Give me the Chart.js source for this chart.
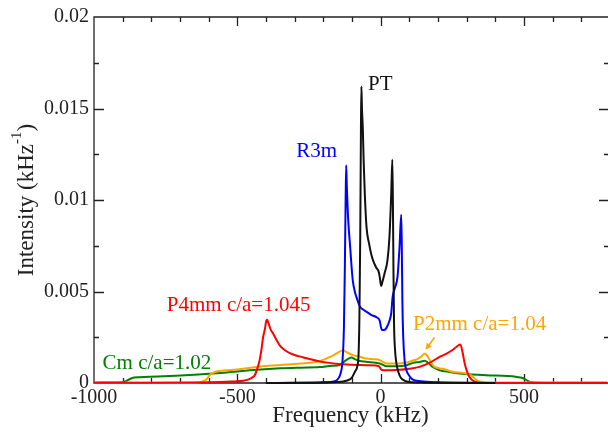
<!DOCTYPE html>
<html>
<head>
<meta charset="utf-8">
<script src="https://cdn.jsdelivr.net/npm/chart.js@4.4.0/dist/chart.umd.min.js"></script>
<style>
  html, body { margin: 0; padding: 0; background: #fff; }
</style>
</head>
<body>
<canvas id="chart" width="608" height="436"></canvas>
<script>
// frequencies in kHz, intensities in kHz^-1
const ptFreq = [-400,-250,-150,-120,-100,-90,-80,-77,-74,-71,-68.5,-67,-65,-62,-59,-55,-49,-40,-32,-24,-15,-7,-3,2,6,14,24,31,37,41,43,45,47,50,55,62,70,85,110,150,250,400];
const ptInt   = [0,0.00001,0.00005,0.00012,0.0003,0.0006,0.0010,0.0015,0.0035,0.0080,0.0140,0.0162,0.0150,0.0139,0.0121,0.0103,0.0085,0.0076,0.0070,0.0066,0.0063,0.0061,0.0058,0.0053,0.0055,0.0060,0.0067,0.0080,0.0103,0.0122,0.0098,0.0060,0.0032,0.0019,0.0011,0.0006,0.0003,0.00012,0.00004,0.00002,0.00001,0];

const r3mFreq = [-400,-300,-200,-160,-150,-140,-133,-128,-125,-122,-120,-118,-114,-110,-106,-101,-97,-90,-80,-73,-60,-50,-30,-15,-3,2,5,12,20,31,37,42,50,59,66,72,74,76,79,84,90,100,111,140,200,300,400];
const r3mInt  = [0,0.00001,0.00004,0.0001,0.0002,0.0005,0.0012,0.003,0.006,0.010,0.0119,0.0108,0.0092,0.0082,0.0074,0.0063,0.0056,0.0050,0.0045,0.0042,0.0040,0.0039,0.0037,0.0036,0.0034,0.0030,0.0029,0.0029,0.0030,0.0034,0.0038,0.0047,0.0052,0.0058,0.0074,0.0092,0.0075,0.0045,0.0025,0.0012,0.0007,0.0004,0.0002,0.0001,0.00004,0.00001,0];

const p4mmFreq = [-1000,-800,-600,-520,-480,-460,-450,-439,-430,-422,-415,-410,-403,-399,-396,-392,-383,-375,-365,-352,-335,-317,-295,-272,-240,-212,-178,-143,-100,-50,-15,-5,2,10,40,66,100,136,170,206,230,251,264,278,287,293,300,310,325,340,400,600,790];
const p4mmInt  = [0.00002,0.00002,0.00004,0.00008,0.00012,0.0002,0.00028,0.00043,0.0008,0.00125,0.0019,0.0025,0.0030,0.0034,0.00345,0.0033,0.0029,0.0027,0.0024,0.00206,0.0018,0.00163,0.0015,0.00141,0.00128,0.00118,0.0011,0.00104,0.0010,0.00097,0.00095,0.0009,0.00074,0.0007,0.0007,0.00072,0.00078,0.00088,0.0011,0.00143,0.0016,0.0018,0.00197,0.0021,0.0016,0.0011,0.0007,0.00033,0.0001,0.00003,0,0,0];

const p2mmFreq = [-1000,-700,-640,-620,-607,-595,-578,-547,-500,-432,-350,-280,-212,-178,-150,-131,-120,-97,-73,-50,-20,-3,8,20,40,66,90,111,124,140,153,160,170,188,216,251,298,316,328,340,351,370,450,790];
const p2mmInt  = [0.00001,0.00002,0.00003,0.00008,0.0002,0.00045,0.0006,0.00068,0.00074,0.00088,0.00098,0.00106,0.0012,0.00141,0.00165,0.00179,0.0017,0.00152,0.00143,0.00134,0.0013,0.00125,0.00115,0.00107,0.00106,0.00107,0.00112,0.00122,0.00128,0.00142,0.0016,0.00155,0.0013,0.00088,0.00078,0.00061,0.00052,0.00042,0.00025,0.00012,0.00007,0.00004,0.00003,0.00003];

const cmFreq = [-1000,-920,-905,-890,-875,-860,-840,-777,-650,-547,-432,-350,-280,-212,-170,-143,-120,-102,-90,-73,-50,-3,20,55,90,113,136,153,165,182,206,240,275,368,472,496,510,519,540,600,790];
const cmInt  = [0.00002,0.00003,0.00004,0.0001,0.00022,0.0003,0.00032,0.00035,0.00045,0.00056,0.00072,0.0008,0.00084,0.00087,0.00094,0.00098,0.00125,0.0014,0.0013,0.0012,0.00116,0.00107,0.00092,0.00092,0.00097,0.0011,0.00115,0.00121,0.00112,0.00088,0.0007,0.0006,0.00052,0.00043,0.00034,0.00027,0.00015,0.00007,0.00003,0.00002,0.00001];

// axis tick labels
const xTickValues = [-1000, -500, 0, 500];
const yTickValues = [0, 0.005, 0.01, 0.015, 0.02];

// in-plot labels: text, anchor (kHz, intensity), colour
const labels = [
  { text: 'PT', x: -44, y: 0.0160, color: '#111' },
  { text: 'R3m', x: -294, y: 0.01236, color: '#0000ff' },
  { text: 'P4mm c/a=1.045', x: -746, y: 0.00396, color: '#ff0000' },
  { text: 'P2mm c/a=1.04', x: 113, y: 0.00287, color: '#ffa500' },
  { text: 'Cm c/a=1.02', x: -970, y: 0.00079, color: '#008000' }
];
const arrowFrom = [188, 0.00249];
const arrowTo = [157, 0.00182];

const serif = '"Liberation Serif", "DejaVu Serif", serif';

function pts(xs, ys) { return xs.map((x, i) => ({ x, y: ys[i] })); }
function series(label, xs, ys, color) {
  return { label, data: pts(xs, ys), borderColor: color, backgroundColor: color,
    borderWidth: 2, pointRadius: 0, fill: false, cubicInterpolationMode: 'monotone', clip: 5 };
}

const framePlugin = {
  id: 'frame',
  beforeDatasetsDraw(chart) {
    const { ctx, chartArea: a, scales: { x, y } } = chart;
    ctx.save();
    ctx.strokeStyle = '#222';
    ctx.lineWidth = 1.3;
    ctx.beginPath();
    ctx.moveTo(a.right + 2, a.top); ctx.lineTo(a.left, a.top);
    ctx.lineTo(a.left, a.bottom); ctx.lineTo(a.right + 2, a.bottom);
    ctx.stroke();
    ctx.beginPath();
    for (let v = -900; v <= 700; v += 100) {
      const px = Math.round(x.getPixelForValue(v)) + 0.5;
      const len = v % 500 === 0 ? 9 : 5;
      ctx.moveTo(px, a.bottom); ctx.lineTo(px, a.bottom - len);
      ctx.moveTo(px, a.top); ctx.lineTo(px, a.top + len);
    }
    for (let i = 1; i < 8; i++) {
      const py = Math.round(y.getPixelForValue(i * 0.0025)) + 0.5;
      const len = i % 2 === 0 ? 10 : 5;
      ctx.moveTo(a.left, py); ctx.lineTo(a.left + len, py);
      ctx.moveTo(a.right + 2, py); ctx.lineTo(a.right + 2 - len, py);
    }
    ctx.stroke();
    ctx.restore();
  },
  afterDatasetsDraw(chart) {
    const { ctx, chartArea: a, scales: { x, y } } = chart;
    ctx.save();
    ctx.font = '21px ' + serif;
    ctx.textBaseline = 'alphabetic';
    labels.forEach(l => {
      ctx.fillStyle = l.color;
      ctx.fillText(l.text, x.getPixelForValue(l.x), y.getPixelForValue(l.y));
    });
    // arrow to the P2mm peak
    const x0 = x.getPixelForValue(arrowFrom[0]), y0 = y.getPixelForValue(arrowFrom[1]);
    const x1 = x.getPixelForValue(arrowTo[0]), y1 = y.getPixelForValue(arrowTo[1]);
    const ang = Math.atan2(y1 - y0, x1 - x0);
    ctx.strokeStyle = '#ffa500'; ctx.fillStyle = '#ffa500'; ctx.lineWidth = 1.6;
    ctx.beginPath(); ctx.moveTo(x0, y0); ctx.lineTo(x1 - 4 * Math.cos(ang), y1 - 4 * Math.sin(ang)); ctx.stroke();
    ctx.beginPath();
    ctx.moveTo(x1, y1);
    ctx.lineTo(x1 - 7 * Math.cos(ang - 0.45), y1 - 7 * Math.sin(ang - 0.45));
    ctx.lineTo(x1 - 7 * Math.cos(ang + 0.45), y1 - 7 * Math.sin(ang + 0.45));
    ctx.closePath(); ctx.fill();

    // y axis title with superscript
    const main = 'Intensity (kHz', sup = '-1', close = ')';
    ctx.fillStyle = '#222';
    ctx.font = '23px ' + serif;
    const w1 = ctx.measureText(main).width, w3 = ctx.measureText(close).width;
    ctx.font = '15px ' + serif;
    const w2 = ctx.measureText(sup).width;
    const total = w1 + w2 + w3;
    ctx.translate(33, (a.top + a.bottom) / 2);
    ctx.rotate(-Math.PI / 2);
    ctx.textAlign = 'left';
    ctx.font = '23px ' + serif;
    ctx.fillText(main, -total / 2, 0);
    ctx.font = '15px ' + serif;
    ctx.fillText(sup, -total / 2 + w1, -12);
    ctx.font = '23px ' + serif;
    ctx.fillText(close, -total / 2 + w1 + w2, 0);
    ctx.restore();
  }
};

new Chart(document.getElementById('chart'), {
  type: 'line',
  data: {
    datasets: [
      series('PT', ptFreq, ptInt, '#111111'),
      series('R3m', r3mFreq, r3mInt, '#0000ff'),
      series('P4mm c/a=1.045', p4mmFreq, p4mmInt, '#ff0000'),
      series('P2mm c/a=1.04', p2mmFreq, p2mmInt, '#ffa500'),
      series('Cm c/a=1.02', cmFreq, cmInt, '#008000')
    ]
  },
  options: {
    responsive: false,
    animation: false,
    layout: { padding: { top: 14, right: 1, left: 0, bottom: 0 } },
    plugins: { legend: { display: false }, tooltip: { enabled: false } },
    scales: {
      x: {
        type: 'linear', min: -1000, max: 790,
        grid: { display: false, drawTicks: false },
        border: { display: false },
        afterBuildTicks: s => { s.ticks = xTickValues.map(v => ({ value: v })); },
        ticks: { padding: 3, color: '#222', autoSkip: false,
          font: { family: serif, size: 20 }, maxRotation: 0,
          callback: v => String(v) },
        title: { display: true, text: 'Frequency (kHz)', color: '#222',
          font: { family: serif, size: 23 }, padding: { top: 0, bottom: 6 } },
        afterFit: s => { s.height = 53; }
      },
      y: {
        min: 0, max: 0.02,
        grid: { display: false, drawTicks: false },
        border: { display: false },
        afterBuildTicks: s => { s.ticks = yTickValues.map(v => ({ value: v })); },
        ticks: { padding: 5, color: '#222', autoSkip: false,
          font: { family: serif, size: 20 },
          callback: v => String(+v.toFixed(4)) },
        afterFit: s => { s.width = 94; }
      }
    }
  },
  plugins: [framePlugin]
});
</script>
</body>
</html>
